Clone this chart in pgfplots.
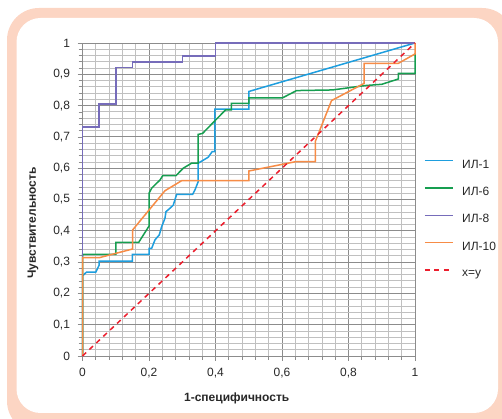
\documentclass[border=0pt]{standalone}
\usepackage{fontspec}
\setmainfont{Liberation Sans}
\usepackage{pgfplots}
\pgfplotsset{compat=1.18}
\definecolor{cBlue}{RGB}{30,158,222}
\definecolor{cGreen}{RGB}{22,158,80}
\definecolor{cPurple}{RGB}{118,108,186}
\definecolor{cOrange}{RGB}{247,140,70}
\definecolor{cRed}{RGB}{236,30,45}
\definecolor{cPeach}{RGB}{252,213,195}
\definecolor{gMinor}{RGB}{192,192,192}
\definecolor{gMajor}{RGB}{140,140,140}
\definecolor{gTxt}{RGB}{40,40,40}
\begin{document}
\begin{tikzpicture}[x=1pt,y=1pt]
\useasboundingbox (0,0) rectangle (502,419);
\begin{scope}
\clip (0,0) rectangle (502,419);
\fill[cPeach, rounded corners=32pt] (7,411) rectangle (514,-14);
\fill[white, rounded corners=24pt] (16.5,401) rectangle (498,6);
\end{scope}
\begin{axis}[
  at={(82.5pt,63pt)}, anchor=south west,
  scale only axis, width=332.5pt, height=313pt,
  xmin=0, xmax=1, ymin=0, ymax=1,
  axis x line*=bottom, axis y line*=left,
  axis line style={draw=gMajor, line width=0.9pt, -},
  xtick={0,0.2,0.4,0.6,0.8,1},
  xticklabels={0,{0,2},{0,4},{0,6},{0,8},1},
  ytick={0,0.1,0.2,0.3,0.4,0.5,0.6,0.7,0.8,0.9,1},
  yticklabels={0,{0,1},{0,2},{0,3},{0,4},{0,5},{0,6},{0,7},{0,8},{0,9},1},
  minor x tick num=4, minor y tick num=4,
  grid=both,
  major grid style={draw=gMajor, line width=0.8pt},
  minor grid style={draw=gMinor, line width=0.8pt},
  tick align=outside,
  major tick length=5pt, minor tick length=4pt,
  tick style={draw=gMajor, line width=0.7pt},
  ticklabel style={font=\fontsize{12}{14}\selectfont, text=gTxt},
  xticklabel style={yshift=-4pt},
  yticklabel style={xshift=-4pt},
  xlabel={\bfseries 1-специфичность},
  ylabel={\bfseries Чувствительность},
  label style={font=\fontsize{12}{14}\selectfont, text=gTxt},
  xlabel style={at={(axis description cs:0.4638,-0.134)}, anchor=center},
  ylabel style={at={(axis description cs:-0.1489,0.425)}, anchor=center, rotate=0},
  legend style={at={(axis description cs:1.0271,0.6275)}, anchor=north west,
    draw=none, fill=none, inner sep=0pt, row sep=17.5pt, column sep=8.5pt,
    font=\fontsize{12}{14}\selectfont,
    nodes={inner sep=0pt, text=gTxt}},
  legend cell align=left,
  legend image code/.code={\draw[#1, line width=1.5pt] (0pt,4.2pt) -- (28pt,4.2pt);},
  clip=false,
]
\addplot[draw=cBlue, line width=1.5pt] coordinates {
(0,0) (0,0.256) (0.012,0.268) (0.04,0.268) (0.05,0.29) (0.05,0.303) (0.15,0.303)
(0.15,0.325) (0.2,0.325) (0.2,0.344) (0.208,0.344) (0.218,0.371) (0.231,0.387)
(0.238,0.413) (0.248,0.44) (0.251,0.461) (0.263,0.472) (0.273,0.482) (0.283,0.516)
(0.331,0.516) (0.338,0.530) (0.348,0.557) (0.348,0.616) (0.378,0.635) (0.39,0.653)
(0.398,0.653) (0.398,0.789) (0.5,0.789) (0.5,0.845) (1,1)};
\addlegendentry{ИЛ-1}
\addplot[draw=cGreen, line width=1.5pt] coordinates {
(0,0) (0,0.325) (0.1,0.325) (0.1,0.363) (0.169,0.363) (0.2,0.415) (0.2,0.52)
(0.208,0.536) (0.223,0.552) (0.233,0.562) (0.241,0.576) (0.281,0.576) (0.303,0.60)
(0.328,0.616) (0.348,0.616) (0.348,0.708) (0.361,0.711) (0.43,0.786) (0.448,0.786)
(0.448,0.807) (0.5,0.807) (0.5,0.825) (0.602,0.825) (0.644,0.848) (0.752,0.85)
(0.85,0.864) (0.90,0.868) (0.95,0.885) (0.95,0.903) (1,0.903) (1,0.967)};
\addlegendentry{ИЛ-6}
\addplot[draw=cPurple, line width=1.5pt] coordinates {
(0,0) (0,0.731) (0.05,0.731) (0.05,0.805) (0.1,0.805) (0.1,0.921) (0.15,0.921)
(0.15,0.94) (0.3,0.94) (0.3,0.959) (0.4,0.959) (0.4,1) (1,1)};
\addlegendentry{ИЛ-8}
\addplot[draw=cOrange, line width=1.5pt] coordinates {
(0,0) (0,0.314) (0.05,0.314) (0.151,0.342) (0.151,0.403) (0.248,0.528) (0.298,0.56)
(0.5,0.56) (0.5,0.591) (0.642,0.621) (0.70,0.621) (0.70,0.685) (0.749,0.816)
(0.847,0.871) (0.847,0.935) (0.95,0.935) (1,0.965) (1,1)};
\addlegendentry{ИЛ-10}
\addplot[draw=cRed, line width=1.5pt, dash pattern=on 5pt off 4.5pt] coordinates {(0,0) (1,1)};
\addlegendentry{x=y}
\end{axis}
\end{tikzpicture}
\end{document}
